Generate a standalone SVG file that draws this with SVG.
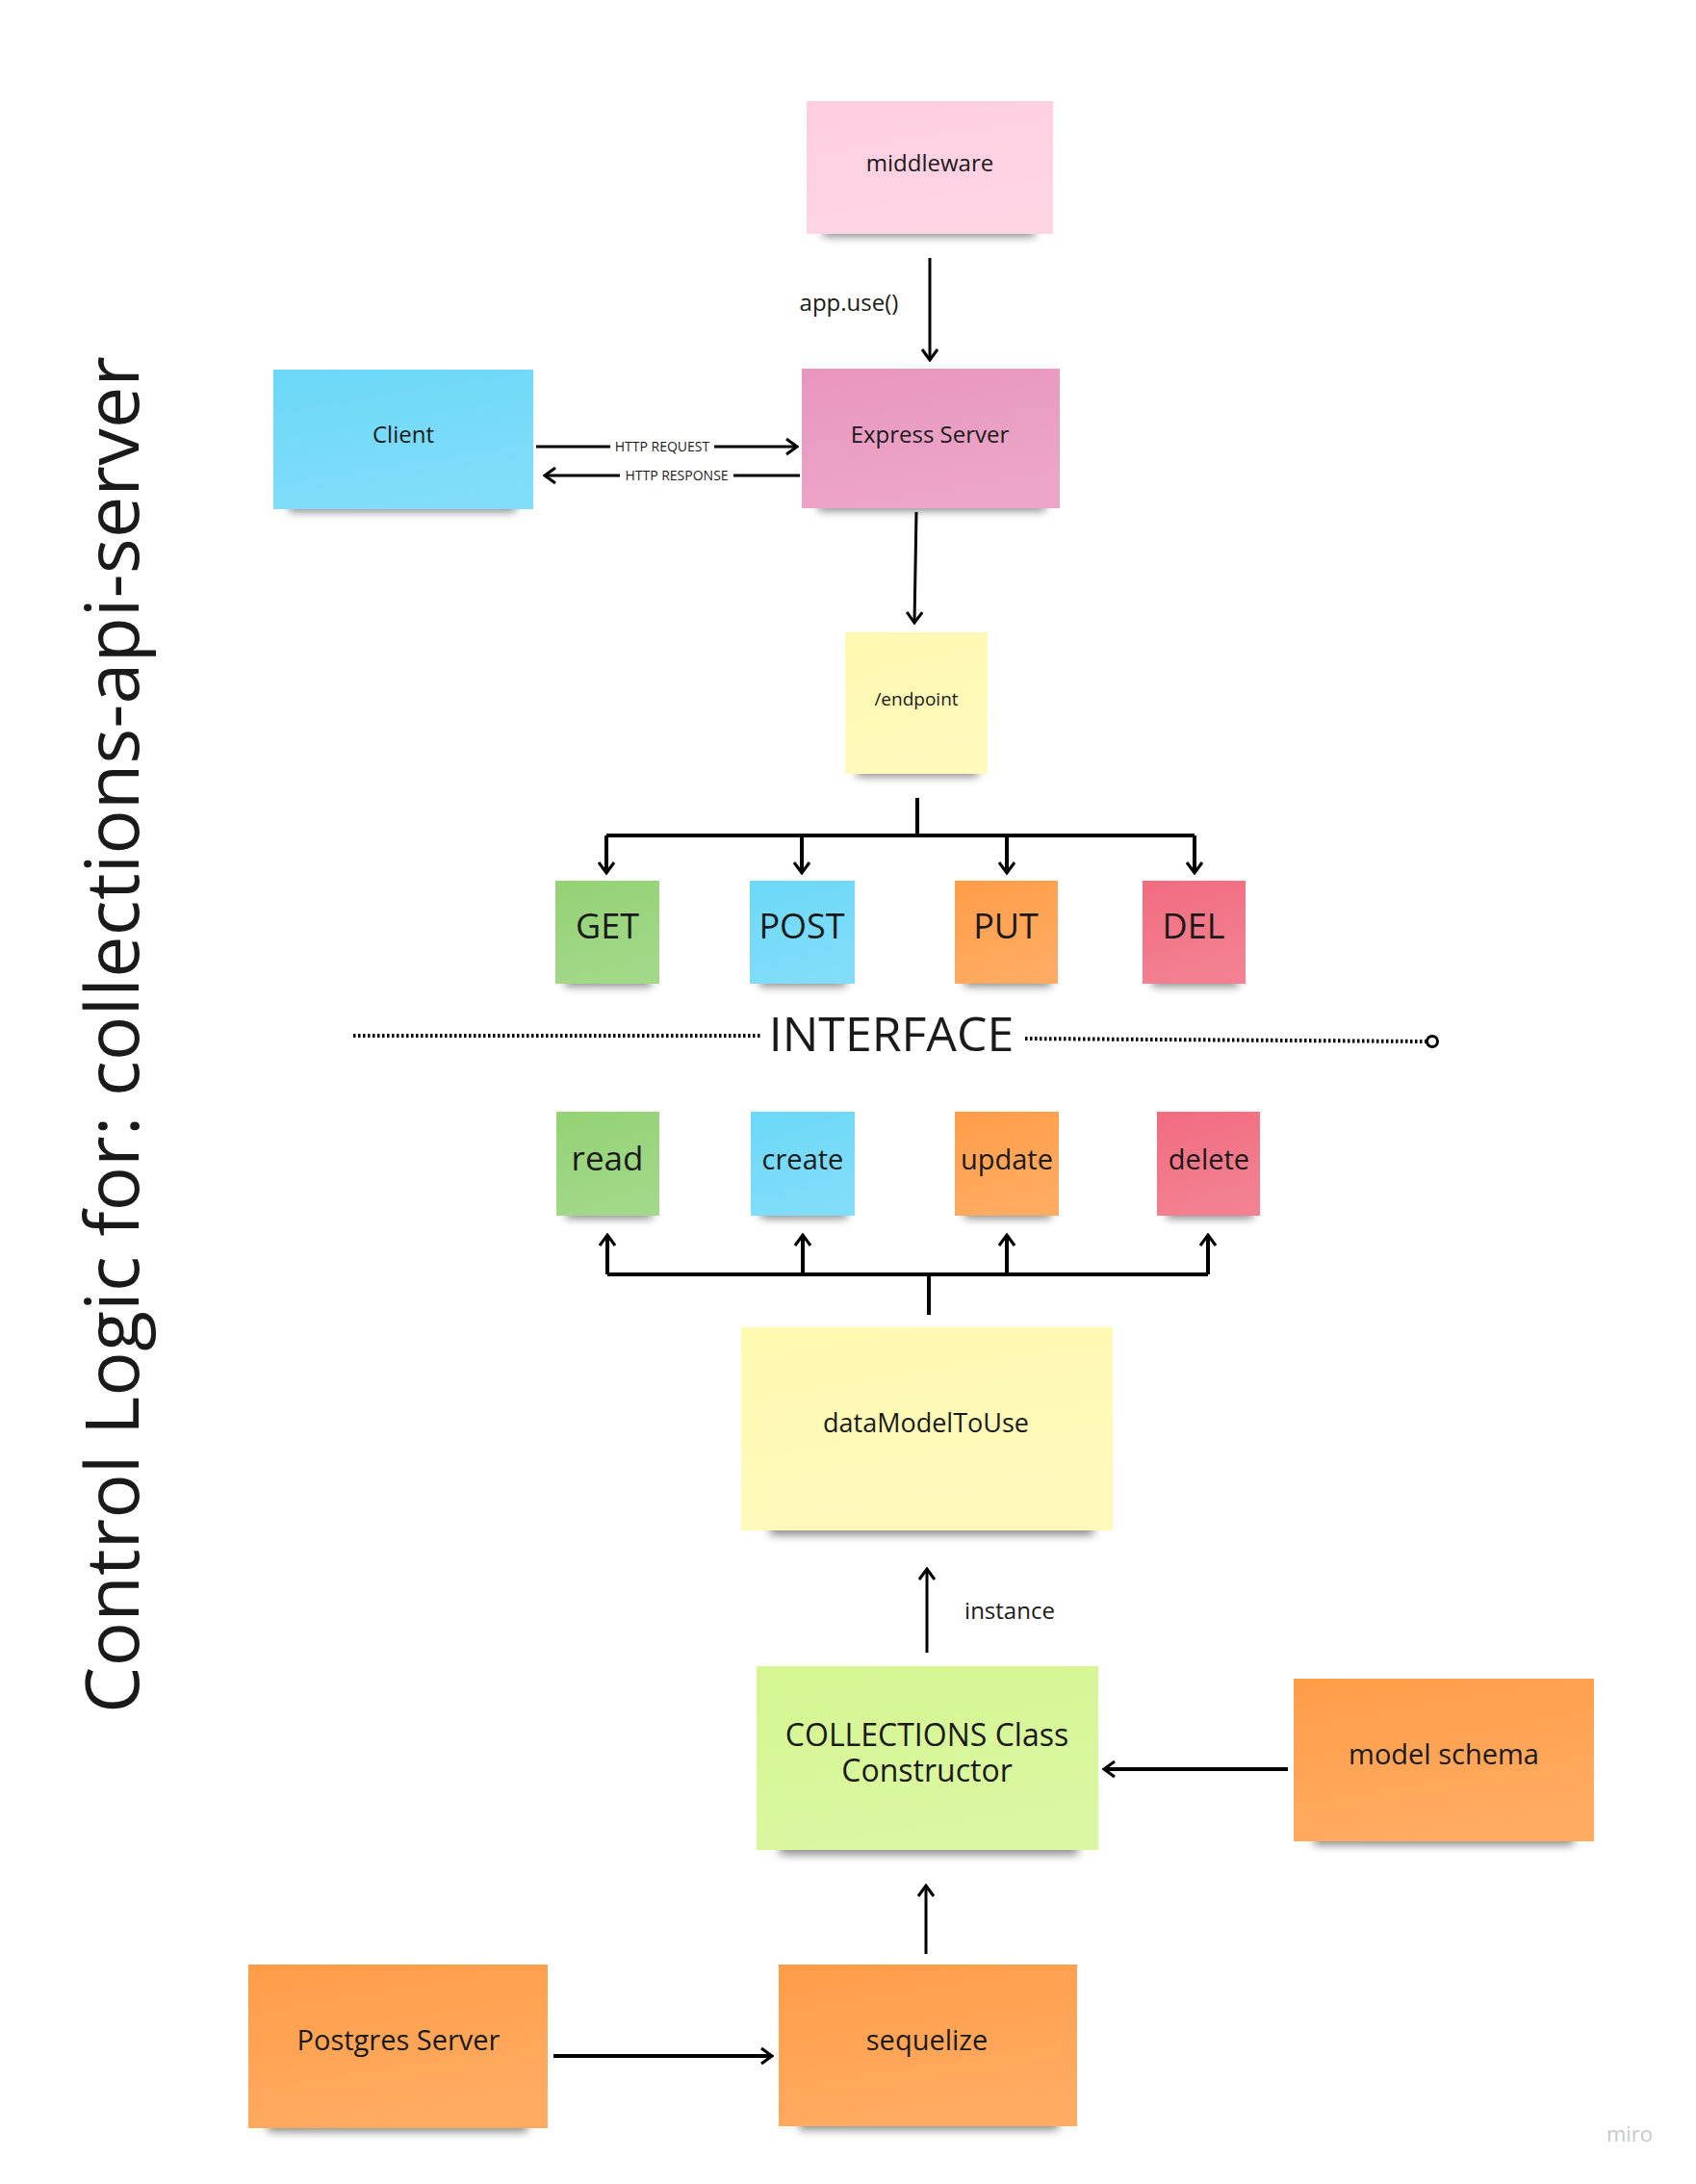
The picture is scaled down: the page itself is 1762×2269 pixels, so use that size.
<svg xmlns="http://www.w3.org/2000/svg" width="1762" height="2269" viewBox="0 0 1762 2269">
<style>
text{font-family:"Open Sans","Noto Sans","Liberation Sans",sans-serif;fill:#1a1a1a;text-anchor:middle}
.sh{fill:#000;opacity:.45;filter:url(#blur)}
.c{stroke:#000;stroke-width:3;fill:none}
.b{stroke:#000;stroke-width:4;fill:none}
.a{marker-end:url(#arr)}
.dot{stroke:#000;stroke-width:4;fill:none;stroke-dasharray:2.5 2.5}
.lbl{font-size:14px}
</style>
<defs>
<filter id="blur" x="-20%" y="-100%" width="140%" height="300%"><feGaussianBlur stdDeviation="5"/></filter>
<marker id="arr" viewBox="0 0 20 20" refX="18" refY="10" markerWidth="20" markerHeight="20" orient="auto" markerUnits="userSpaceOnUse"><path d="M7,2 L18,10 L7,18" stroke="#000" stroke-width="3" fill="none"/></marker>
<linearGradient id="sheen" x1="0" y1="0" x2="0.3" y2="1"><stop offset="0" stop-color="#fff" stop-opacity="0"/><stop offset="1" stop-color="#fff" stop-opacity="0.14"/></linearGradient>
</defs>

<text transform="translate(144,1780) rotate(-90)" style="font-size:77px;text-anchor:start" textLength="1410" lengthAdjust="spacing">Control Logic for: collections-api-server</text>

<g id="middleware"><rect class="sh" x="855" y="232" width="220" height="14"/><rect x="838" y="105" width="256" height="138" fill="#ffcee0"/><rect x="838" y="105" width="256" height="138" fill="url(#sheen)"/><text x="966" y="178" font-size="24">middleware</text></g>
<g id="client"><rect class="sh" x="300" y="518" width="236" height="14"/><rect x="284" y="384" width="270" height="145" fill="#6cd8f8"/><rect x="284" y="384" width="270" height="145" fill="url(#sheen)"/><text x="419" y="460" font-size="24">Client</text></g>
<g id="express"><rect class="sh" x="850" y="517" width="236" height="14"/><rect x="833" y="383" width="268" height="145" fill="#e996be"/><rect x="833" y="383" width="268" height="145" fill="url(#sheen)"/><text x="966" y="460" font-size="24">Express Server</text></g>
<g id="endpoint"><rect class="sh" x="890" y="793" width="126" height="14"/><rect x="878" y="657" width="148" height="147" fill="#fff9b1"/><rect x="878" y="657" width="148" height="147" fill="url(#sheen)"/><text x="952" y="733" font-size="19">/endpoint</text></g>

<g id="get"><rect class="sh" x="587" y="1011" width="90" height="14"/><rect x="577" y="915" width="108" height="107" fill="#93d275"/><rect x="577" y="915" width="108" height="107" fill="url(#sheen)"/><text x="631" y="975" font-size="36">GET</text></g>
<g id="post"><rect class="sh" x="789" y="1011" width="90" height="14"/><rect x="779" y="915" width="109" height="107" fill="#6cd8f8"/><rect x="779" y="915" width="109" height="107" fill="url(#sheen)"/><text x="833" y="975" font-size="36">POST</text></g>
<g id="put"><rect class="sh" x="1002" y="1011" width="90" height="14"/><rect x="992" y="915" width="107" height="107" fill="#ff9d48"/><rect x="992" y="915" width="107" height="107" fill="url(#sheen)"/><text x="1045" y="975" font-size="36">PUT</text></g>
<g id="del"><rect class="sh" x="1197" y="1011" width="90" height="14"/><rect x="1187" y="915" width="107" height="107" fill="#f16c7f"/><rect x="1187" y="915" width="107" height="107" fill="url(#sheen)"/><text x="1240" y="975" font-size="36">DEL</text></g>

<g id="interface"><text x="926" y="1092" font-size="50">INTERFACE</text></g>

<g id="read"><rect class="sh" x="588" y="1252" width="90" height="14"/><rect x="578" y="1155" width="107" height="108" fill="#93d275"/><rect x="578" y="1155" width="107" height="108" fill="url(#sheen)"/><text x="631" y="1216" font-size="35">read</text></g>
<g id="create"><rect class="sh" x="790" y="1252" width="90" height="14"/><rect x="780" y="1155" width="108" height="108" fill="#6cd8f8"/><rect x="780" y="1155" width="108" height="108" fill="url(#sheen)"/><text x="834" y="1215" font-size="29">create</text></g>
<g id="update"><rect class="sh" x="1002" y="1252" width="90" height="14"/><rect x="992" y="1155" width="108" height="108" fill="#ff9d48"/><rect x="992" y="1155" width="108" height="108" fill="url(#sheen)"/><text x="1046" y="1215" font-size="29">update</text></g>
<g id="delete"><rect class="sh" x="1212" y="1252" width="90" height="14"/><rect x="1202" y="1155" width="107" height="108" fill="#f16c7f"/><rect x="1202" y="1155" width="107" height="108" fill="url(#sheen)"/><text x="1256" y="1215" font-size="29">delete</text></g>

<g id="datamodel"><rect class="sh" x="800" y="1579" width="336" height="16"/><rect x="770" y="1379" width="386" height="211" fill="#fff9b1"/><rect x="770" y="1379" width="386" height="211" fill="url(#sheen)"/><text x="962" y="1488" font-size="27">dataModelToUse</text></g>
<g id="collections"><rect class="sh" x="810" y="1911" width="310" height="16"/><rect x="786" y="1731" width="355" height="191" fill="#d5f692"/><rect x="786" y="1731" width="355" height="191" fill="url(#sheen)"/><text x="963" y="1814" font-size="32"><tspan x="963" y="1814">COLLECTIONS Class</tspan><tspan x="963" y="1851">Constructor</tspan></text></g>
<g id="modelschema"><rect class="sh" x="1365" y="1902" width="270" height="15"/><rect x="1344" y="1744" width="312" height="169" fill="#ff9d48"/><rect x="1344" y="1744" width="312" height="169" fill="url(#sheen)"/><text x="1500" y="1833" font-size="29">model schema</text></g>
<g id="postgres"><rect class="sh" x="278" y="2200" width="270" height="15"/><rect x="258" y="2041" width="311" height="170" fill="#ff9d48"/><rect x="258" y="2041" width="311" height="170" fill="url(#sheen)"/><text x="414" y="2130" font-size="29">Postgres Server</text></g>
<g id="sequelize"><rect class="sh" x="830" y="2198" width="270" height="15"/><rect x="809" y="2041" width="310" height="168" fill="#ff9d48"/><rect x="809" y="2041" width="310" height="168" fill="url(#sheen)"/><text x="963" y="2130" font-size="29">sequelize</text></g>

<g id="connectors">
<path class="c a" d="M966,268 V374"/>
<text x="882" y="323" font-size="24">app.use()</text>
<path class="c a" d="M557,464 H828"/>
<rect x="634" y="454" width="108" height="20" fill="#fff"/>
<text class="lbl" x="688" y="469">HTTP REQUEST</text>
<path class="c a" d="M831,494 H566"/>
<rect x="644" y="484" width="118" height="20" fill="#fff"/>
<text class="lbl" x="703" y="499">HTTP RESPONSE</text>
<path class="c a" d="M952,532 L950,647"/>
<path class="b" d="M953,829 V868 M630,868 H1241"/>
<path class="b a" d="M630,868 V907"/>
<path class="b a" d="M833,868 V907"/>
<path class="b a" d="M1046,868 V907"/>
<path class="b a" d="M1241,868 V907"/>
<path class="dot" d="M367,1076 H790"/>
<path class="dot" d="M1065,1079 L1482,1082"/>
<circle cx="1488" cy="1082" r="5.5" fill="#fff" stroke="#000" stroke-width="3"/>
<path class="b" d="M965,1366 V1324 M631,1324 H1255"/>
<path class="b a" d="M631,1324 V1283"/>
<path class="b a" d="M834,1324 V1283"/>
<path class="b a" d="M1046,1324 V1283"/>
<path class="b a" d="M1255,1324 V1283"/>
<path class="c a" d="M963,1717 V1630"/>
<text x="1049" y="1682" font-size="24">instance</text>
<path class="b a" d="M1338,1838 H1147"/>
<path class="c a" d="M962,2030 V1959"/>
<path class="b a" d="M575,2136 H802"/>
</g>
<text x="1693" y="2225" font-size="22" style="fill:#c8c8c8">miro</text>
</svg>
